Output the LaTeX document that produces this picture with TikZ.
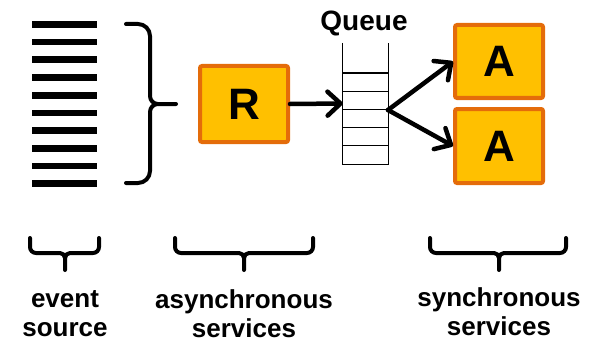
\documentclass[tikz,border=0pt]{standalone}
\usepackage{fontspec}
\setmainfont{Liberation Sans}
\usepackage{xcolor}
\usetikzlibrary{arrows.meta}
\usetikzlibrary{positioning}

\definecolor{relleno}{HTML}{FFC000}
\definecolor{borde}{HTML}{E46C0A}

\begin{document}
\begin{tikzpicture}[
    x=1pt, y=-1pt,
    servicio/.style={rectangle, draw=borde, fill=relleno, line width=4pt, rounded corners=2pt, minimum width=88pt, inner sep=0pt, font=\fontsize{44}{44}\selectfont\bfseries},
    llave/.style={draw=black, line width=4pt, line cap=round, line join=round},
    flecha/.style={draw=black, line width=4.5pt, line cap=round, -{Straight Barb[length=13pt, width=24pt, line cap=round, line join=round]}},
    peldano/.style={draw=black, line width=1.2pt},
    etiqueta/.style={align=center, font=\fontsize{26}{29}\selectfont\bfseries}
]
\useasboundingbox (0,0) rectangle (593,342);

% Fuente de eventos (barras)
\foreach \i in {0,...,9}
  \fill (32,{21+17.7*\i}) rectangle (97,{27.7+17.7*\i});

% Llave grande
\draw[llave] (126,24) -- (138,24) to[out=0,in=90] (150,36) -- (150,96) to[out=-90,in=180] (158,104) -- (176,104);
\draw[llave] (126,183) -- (138,183) to[out=0,in=-90] (150,171) -- (150,112) to[out=90,in=180] (158,104);

% Nodos
\node[servicio, minimum height=76pt] (R) at (244,104) {R};
\node[inner sep=0pt, minimum width=45pt, minimum height=121pt] (cola) at (365.5,103.5) {};
\node[etiqueta, font=\fontsize{28}{30}\selectfont\bfseries, anchor=base] (titulo) at (364,31) {Queue};
\node[servicio, minimum height=73pt] (A1) at (499,61.5) {A};
\node[servicio, minimum height=74pt] (A2) at (499,146) {A};
\coordinate (salida) at (388,110);

% Cola
\draw[peldano] (cola.north west) -- (cola.south west) -- (cola.south east) -- (cola.north east);
\foreach \y in {73,91.2,109.4,127.6,145.8}
  \draw[peldano] (cola.west |- 0,\y) -- (cola.east |- 0,\y);

% Flechas
\draw[flecha] (R.east) -- (cola.west);
\draw[flecha] (salida) -- (A1.west);
\draw[flecha] (salida) -- (A2.west);

% Llaves inferiores
\foreach \a/\m/\b in {30/65/99, 175/244/313, 430/499/566} {
  \draw[llave] (\a,238) -- (\a,247) to[out=-90,in=180] ({\a+6},253) -- ({\m-5},253) to[out=0,in=90] (\m,258) -- (\m,270);
  \draw[llave] (\b,238) -- (\b,247) to[out=-90,in=0] ({\b-6},253) -- ({\m+5},253) to[out=180,in=90] (\m,258);
}

% Etiquetas
\node[etiqueta] (fuente) at (65,314) {event\\source};
\node[etiqueta] (asincronos) at (244,314) {asynchronous\\services};
\node[etiqueta] (sincronos) at (499,312) {synchronous\\services};

\end{tikzpicture}
\end{document}
